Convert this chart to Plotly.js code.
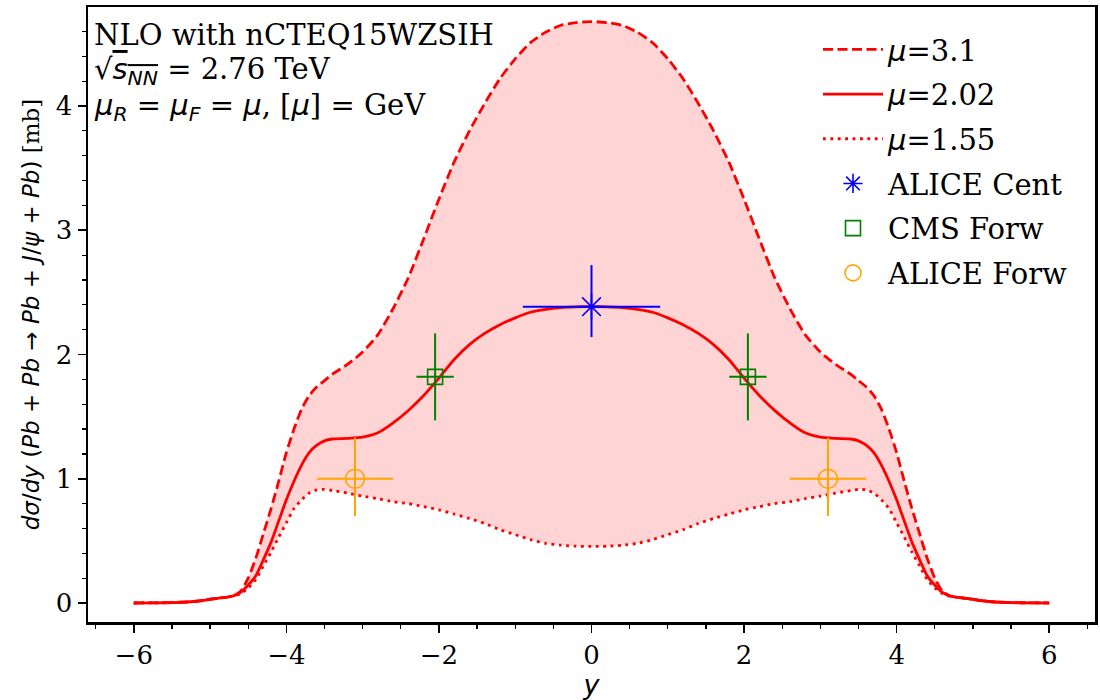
<!DOCTYPE html>
<html>
<head>
<meta charset="utf-8">
<script src="https://cdn.plot.ly/plotly-3.0.1.min.js"></script>
<style>html,body{margin:0;padding:0;background:#fff;}#chart{width:1100px;height:700px;}</style>
</head>
<body>
<div id="chart"></div>
<script>
// rapidity grid
const rapidity = [-6,-5.75,-5.5,-5.25,-5.1,-5,-4.9,-4.8,-4.7,-4.6,-4.5,-4.4,-4.3,-4.2,-4.1,-4,-3.9,-3.8,-3.7,-3.6,-3.5,-3.4,-3.2,-3,-2.8,-2.6,-2.4,-2.2,-2,-1.8,-1.6,-1.4,-1.2,-1,-0.8,-0.6,-0.4,-0.2,0,
  0.2,0.4,0.6,0.8,1,1.2,1.4,1.6,1.8,2,2.2,2.4,2.6,2.8,3,3.2,3.4,3.5,3.6,3.7,3.8,3.9,4,4.1,4.2,4.3,4.4,4.5,4.6,4.7,4.8,4.9,5,5.1,5.25,5.5,5.75,6];

// mu = 3.1 (dashed)
const mu31 = [0,0.001,0.003,0.01,0.02,0.03,0.038,0.045,0.056,0.095,0.20,0.36,0.56,0.76,0.98,1.21,1.40,1.56,1.67,1.74,1.79,1.84,1.92,2.02,2.16,2.37,2.62,2.93,3.25,3.55,3.80,4.02,4.22,4.38,4.51,4.595,4.65,4.672,4.68,
  4.672,4.65,4.595,4.51,4.38,4.22,4.02,3.80,3.55,3.25,2.93,2.62,2.37,2.16,2.02,1.92,1.84,1.79,1.74,1.67,1.56,1.40,1.21,0.98,0.76,0.56,0.36,0.20,0.095,0.056,0.045,0.038,0.03,0.02,0.01,0.003,0.001,0];

// mu = 2.02 (solid)
const mu202 = [0,0.001,0.003,0.01,0.02,0.03,0.038,0.045,0.056,0.085,0.145,0.22,0.35,0.49,0.66,0.83,0.98,1.11,1.21,1.27,1.305,1.32,1.325,1.335,1.37,1.45,1.55,1.67,1.81,1.96,2.08,2.17,2.24,2.295,2.34,2.363,2.377,2.383,2.385,
  2.383,2.377,2.363,2.34,2.295,2.24,2.17,2.08,1.96,1.81,1.67,1.55,1.45,1.37,1.335,1.325,1.32,1.305,1.27,1.21,1.11,0.98,0.83,0.66,0.49,0.35,0.22,0.145,0.085,0.056,0.045,0.038,0.03,0.02,0.01,0.003,0.001,0];

// mu = 1.55 (dotted)
const mu155 = [0,0.001,0.003,0.01,0.02,0.03,0.038,0.045,0.056,0.075,0.12,0.19,0.30,0.41,0.53,0.645,0.76,0.83,0.885,0.91,0.915,0.905,0.885,0.86,0.84,0.815,0.80,0.775,0.75,0.715,0.68,0.64,0.59,0.55,0.51,0.48,0.465,0.457,0.455,
  0.457,0.465,0.48,0.51,0.55,0.59,0.64,0.68,0.715,0.75,0.775,0.80,0.815,0.84,0.86,0.885,0.905,0.915,0.91,0.885,0.83,0.76,0.645,0.53,0.41,0.30,0.19,0.12,0.075,0.056,0.045,0.038,0.03,0.02,0.01,0.003,0.001,0];

// data points
const aliceCentX = [0];
const aliceCentY = [2.385];
const aliceCentXerr = [0.9];
const aliceCentYerrPlus = [0.335];
const aliceCentYerrMinus = [0.245];

const cmsForwX = [-2.05, 2.05];
const cmsForwY = [1.82, 1.82];
const cmsForwXerr = [0.245, 0.245];
const cmsForwYerr = [0.35, 0.35];

const aliceForwX = [-3.1, 3.1];
const aliceForwY = [1.0, 1.0];
const aliceForwXerr = [0.5, 0.5];
const aliceForwYerrPlus = [0.33, 0.33];
const aliceForwYerrMinus = [0.30, 0.30];

const xTicks = [-6,-4,-2,0,2,4,6];
const yTicks = [0,1,2,3,4];

const SERIF = '"DejaVu Serif", serif';
const SANS = '"DejaVu Sans", sans-serif';
const mu = '<span style="font-family:DejaVu Sans"><i>μ</i></span>';

const lineShape = {shape: 'spline', smoothing: 0.6};

const traces = [
  {x: rapidity, y: mu155, mode: 'lines', line: Object.assign({width: 0, color: 'rgba(0,0,0,0)'}, lineShape), showlegend: false, hoverinfo: 'skip'},
  {x: rapidity, y: mu31, mode: 'lines', fill: 'tonexty', fillcolor: 'rgba(255,0,0,0.17)', line: Object.assign({width: 0, color: 'rgba(0,0,0,0)'}, lineShape), showlegend: false, hoverinfo: 'skip'},
  {x: rapidity, y: mu31, mode: 'lines', name: mu + '=3.1', legendgroup: 'a', line: Object.assign({color: '#ff0000', width: 2.8, dash: '10px,4.5px'}, lineShape)},
  {x: rapidity, y: mu202, mode: 'lines', name: mu + '=2.02', legendgroup: 'b', line: Object.assign({color: '#ff0000', width: 2.8}, lineShape)},
  {x: rapidity, y: mu155, mode: 'lines', name: mu + '=1.55', legendgroup: 'c', line: Object.assign({color: '#ff0000', width: 2.8, dash: '2.8px,4.6px'}, lineShape)},
  {x: aliceCentX, y: aliceCentY, mode: 'markers', name: 'ALICE Cent', legendgroup: 'd',
   marker: {symbol: 'asterisk-open', size: 22, color: '#0000ff', line: {color: '#0000ff', width: 1.6}},
   error_x: {type: 'data', array: aliceCentXerr, color: '#0000ff', thickness: 2, width: 0},
   error_y: {type: 'data', symmetric: false, array: aliceCentYerrPlus, arrayminus: aliceCentYerrMinus, color: '#0000ff', thickness: 2, width: 0}},
  {x: cmsForwX, y: cmsForwY, mode: 'markers', name: 'CMS Forw', legendgroup: 'e',
   marker: {symbol: 'square-open', size: 15, color: '#008000', line: {color: '#008000', width: 1.6}},
   error_x: {type: 'data', array: cmsForwXerr, color: '#008000', thickness: 2, width: 0},
   error_y: {type: 'data', array: cmsForwYerr, color: '#008000', thickness: 2, width: 0}},
  {x: aliceForwX, y: aliceForwY, mode: 'markers', name: 'ALICE Forw', legendgroup: 'f',
   marker: {symbol: 'circle-open', size: 19, color: '#ffa500', line: {color: '#ffa500', width: 1.6}},
   error_x: {type: 'data', array: aliceForwXerr, color: '#ffa500', thickness: 2, width: 0},
   error_y: {type: 'data', symmetric: false, array: aliceForwYerrPlus, arrayminus: aliceForwYerrMinus, color: '#ffa500', thickness: 2, width: 0}}
];

const L = 88, R = 5, T = 7, B = 78;
const W = 1100 - L - R, H = 700 - T - B;
const px = (p) => (p - L) / W;
const py = (p) => (700 - B - p) / H;

const layout = {
  width: 1100, height: 700,
  margin: {l: L, r: R, t: T, b: B, pad: 0},
  paper_bgcolor: '#fff', plot_bgcolor: '#fff',
  font: {family: SERIF, size: 26, color: '#000'},
  showlegend: true,
  legend: {x: px(818), y: py(24), xanchor: 'left', yanchor: 'top', bgcolor: 'rgba(0,0,0,0)', borderwidth: 0,
           font: {family: SERIF, size: 29, color: '#000'}, tracegroupgap: 4, traceorder: 'grouped', itemwidth: 60},
  xaxis: {
    range: [-6.6, 6.6], tickmode: 'array', tickvals: xTicks, ticktext: xTicks.map(v => v < 0 ? '−' + Math.abs(v) : String(v)),
    ticks: 'outside', ticklen: 8, tickwidth: 1.6, tickcolor: '#000',
    minor: {dtick: 0.5, tick0: 0, ticks: 'outside', ticklen: 4, tickwidth: 1.2, tickcolor: '#000'},
    showline: true, linewidth: 2.5, linecolor: '#000', mirror: true,
    showgrid: false, zeroline: false,
    tickfont: {family: SERIF, size: 26},
    title: {text: '<i>y</i>', font: {family: SANS, size: 27}, standoff: 0}
  },
  yaxis: {
    range: [-0.153, 4.797], tickmode: 'array', tickvals: yTicks, ticktext: yTicks.map(String),
    ticks: 'outside', ticklen: 8, tickwidth: 1.6, tickcolor: '#000',
    minor: {dtick: 0.2, tick0: 0, ticks: 'outside', ticklen: 4, tickwidth: 1.2, tickcolor: '#000'},
    showline: true, linewidth: 2.5, linecolor: '#000', mirror: true,
    showgrid: false, zeroline: false,
    tickfont: {family: SERIF, size: 26},
    title: {text: '<span style="font-family:DejaVu Sans"><i>dσ</i>/<i>dy</i> (<i>Pb</i> + <i>Pb</i> → <i>Pb</i> + <i>J</i>/<i>ψ</i> + <i>Pb</i>)</span> [mb]',
            font: {family: SERIF, size: 23}, standoff: 10}
  },
  annotations: [
    {xref: 'paper', yref: 'paper', x: px(92), y: py(35), xanchor: 'left', yanchor: 'middle', showarrow: false,
     text: 'NLO with nCTEQ15WZSIH', font: {family: SERIF, size: 29}},
    {xref: 'paper', yref: 'paper', x: px(92), y: py(71), xanchor: 'left', yanchor: 'middle', showarrow: false,
     text: '<span style="font-family:DejaVu Sans">√<span style="text-decoration:overline"><i>s</i><sub><i>NN</i></sub></span></span> = 2.76 TeV', font: {family: SERIF, size: 29}},
    {xref: 'paper', yref: 'paper', x: px(92), y: py(107), xanchor: 'left', yanchor: 'middle', showarrow: false,
     text: mu + '<sub><span style="font-family:DejaVu Sans"><i>R</i></span></sub><span style="font-family:DejaVu Sans"> = </span>' + mu + '<sub><span style="font-family:DejaVu Sans"><i>F</i></span></sub><span style="font-family:DejaVu Sans"> = </span>' + mu + ', [' + mu + ']<span style="font-family:DejaVu Sans"> = </span>GeV',
     font: {family: SERIF, size: 29}}
  ]
};

Plotly.newPlot('chart', traces, layout, {displayModeBar: false, staticPlot: true});
</script>
</body>
</html>
